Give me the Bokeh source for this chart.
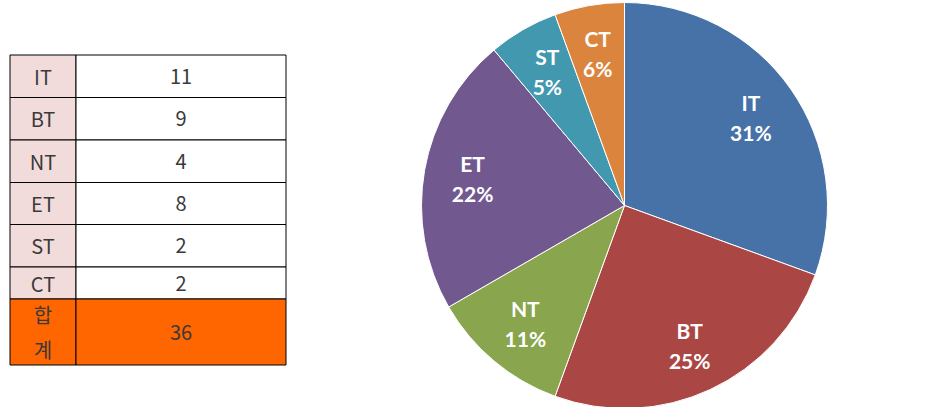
import numpy as np
from bokeh.plotting import figure
from bokeh.models import Range1d
from bokeh.core.properties import value
from bokeh.embed import file_html
from bokeh.resources import INLINE

# ---- data ----
categories = ["IT", "BT", "NT", "ET", "ST", "CT"]
counts = [11, 9, 4, 8, 2, 2]
pct_labels = ["31%", "25%", "11%", "22%", "5%", "6%"]
total_label = ["합", "계"]
total_value = sum(counts)

# ---- styles ----
slice_colors = ["#4672A8", "#AA4643", "#89A54E", "#71588F", "#4198AF", "#DB843D"]
header_fill = "#F2DCDB"
total_fill = "#FF6600"
text_color = "#3a3a3a"

W, H = 933, 407
p = figure(width=W, height=H, x_range=Range1d(0, W), y_range=Range1d(0, H),
           output_backend="svg", toolbar_location=None,
           x_axis_type=None, y_axis_type=None, min_border=0)
p.outline_line_color = None
p.background_fill_color = "white"
p.border_fill_color = "white"

# ---- table ----
tbl_left, col_div, tbl_right = 9.5, 75.5, 285.5
tbl_top = 54.5
row_h = [42.5, 42.5, 42.5, 42.0, 42.5, 32.0, 66.0]
cx1 = (tbl_left + col_div) / 2
cx2 = (col_div + tbl_right) / 2
w1 = col_div - tbl_left
w2 = tbl_right - col_div

y = tbl_top
centers = []
for h in row_h:
    centers.append(H - (y + h / 2))
    y += h

n = len(categories)
row_y = centers[:n]
row_hh = row_h[:n]
p.rect(x=[cx1] * n, y=row_y, width=[w1] * n, height=row_hh,
       fill_color=header_fill, line_color="black", line_width=1)
p.rect(x=[cx2] * n, y=row_y, width=[w2] * n, height=row_hh,
       fill_color="white", line_color="black", line_width=1)
p.text(x=[cx1] * n, y=row_y, text=categories, text_align="center",
       text_baseline="middle", text_font=value("Noto Sans CJK KR"),
       text_font_size="20px", text_color=text_color)
p.text(x=[cx2] * n, y=row_y, text=[str(c) for c in counts], text_align="center",
       text_baseline="middle", text_font=value("Noto Sans CJK KR"),
       text_font_size="20px", text_color=text_color)

ty = centers[-1]
th = row_h[-1]
p.rect(x=[cx1, cx2], y=[ty, ty], width=[w1, w2], height=[th, th],
       fill_color=total_fill, line_color="black", line_width=1)
p.text(x=[cx1, cx1], y=[ty + 17.5, ty - 17.5], text=total_label,
       text_align="center", text_baseline="middle",
       text_font=value("Noto Sans CJK KR"), text_font_size="20px",
       text_color=text_color)
p.text(x=[cx2], y=[ty], text=[str(total_value)], text_align="center",
       text_baseline="middle", text_font=value("Noto Sans CJK KR"),
       text_font_size="20px", text_color=text_color)

# ---- pie ----
pcx, pcy, R = 624, H - 205, 203
vals = np.array(counts, dtype=float)
frac = vals / vals.sum()
cum = np.concatenate([[0], np.cumsum(frac)])
start_cw = np.pi / 2 - cum[:-1] * 2 * np.pi
end_cw = np.pi / 2 - cum[1:] * 2 * np.pi

p.wedge(x=[pcx] * n, y=[pcy] * n, radius=R,
        start_angle=list(end_cw), end_angle=list(start_cw),
        direction="anticlock", fill_color=slice_colors,
        line_color="white", line_width=1)

mid = (start_cw + end_cw) / 2
lr = 0.76 * R
lx = pcx + lr * np.cos(mid)
ly = pcy + lr * np.sin(mid)
p.text(x=list(lx), y=list(ly + 15), text=categories, text_align="center",
       text_baseline="middle", text_font=value("Lato"), text_font_style="bold",
       text_font_size="21px", text_color="white")
p.text(x=list(lx), y=list(ly - 15), text=pct_labels, text_align="center",
       text_baseline="middle", text_font=value("Lato"), text_font_style="bold",
       text_font_size="21px", text_color="white")

open("out.html", "w").write(file_html(p, INLINE))
